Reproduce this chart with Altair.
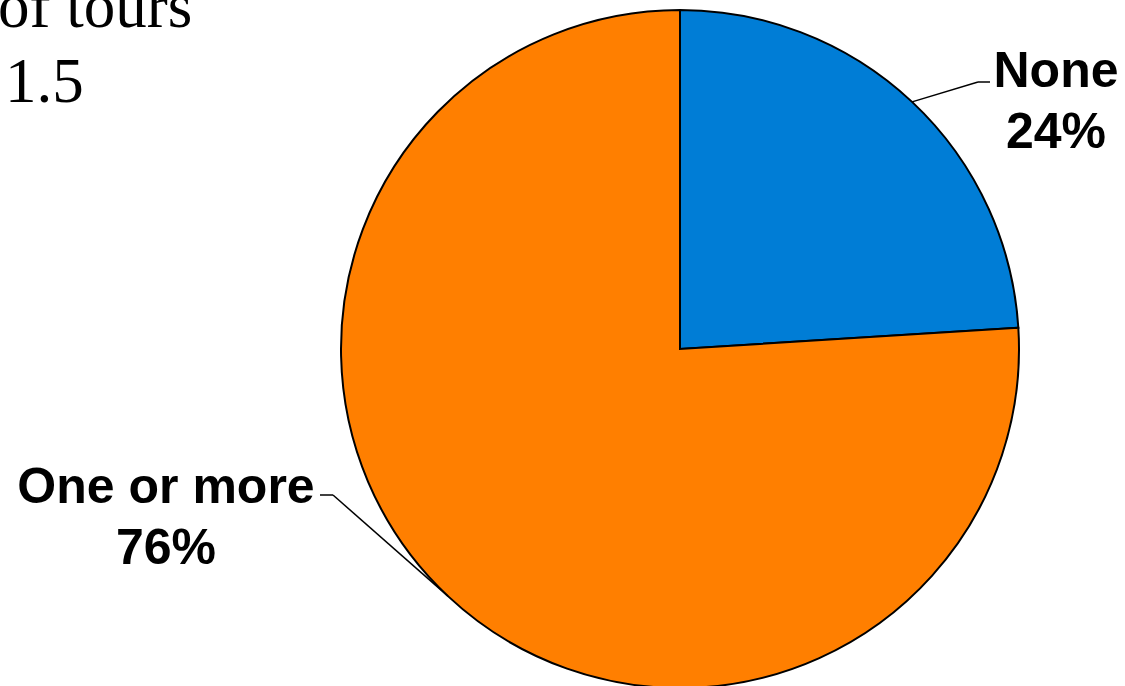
import altair as alt
import pandas as pd

categories = ["None", "One or more"]
values = [24, 76]
colors = ["#007DD6", "#FF7F00"]
side_text = ["of tours", "1.5"]

df = pd.DataFrame({"category": categories, "value": values, "order": [0, 1]})

CX, CY, R = 680, 349, 339

base = alt.Chart(df)

pie = base.mark_arc(stroke="black", strokeWidth=2, radius=R).encode(
    theta=alt.Theta("value:Q", stack=True),
    order=alt.Order("order:Q"),
    color=alt.Color("category:N", scale=alt.Scale(domain=categories, range=colors), legend=None),
    x=alt.value(CX),
    y=alt.value(CY),
)

geo = base.transform_joinaggregate(total="sum(value)").transform_window(
    cum="sum(value)", sort=[alt.SortField("order")]
).transform_calculate(
    mid="2*PI*(datum.cum - datum.value/2)/datum.total",
    ex=f"{CX} + {R}*sin(datum.mid)",
    ey=f"{CY} - {R}*cos(datum.mid)",
    label="[datum.category, datum.value + '%']",
)

def leader(cat, elbow, end):
    g = geo.transform_filter(alt.datum.category == cat)
    r1 = g.mark_rule(color="black", strokeWidth=1.5).encode(
        x=alt.X("ex:Q", scale=None), y=alt.Y("ey:Q", scale=None),
        x2=alt.value(elbow[0]), y2=alt.value(elbow[1]),
    )
    r2 = g.mark_rule(color="black", strokeWidth=1.5).encode(
        x=alt.value(elbow[0]), y=alt.value(elbow[1]),
        x2=alt.value(end[0]), y2=alt.value(end[1]),
    )
    return r1 + r2

def label(cat, x, y):
    g = geo.transform_filter(alt.datum.category == cat)
    return g.mark_text(
        font="Liberation Sans", fontWeight="bold", fontSize=50, lineHeight=61,
        align="center", baseline="alphabetic", color="black",
    ).encode(text="label:N", x=alt.value(x), y=alt.value(y))

side_df = pd.DataFrame({"t": side_text, "i": [0, 1]})

def side(i, x, y):
    return alt.Chart(side_df).transform_filter(alt.datum.i == i).mark_text(
        font="Liberation Serif", fontSize=63, align="left",
        baseline="alphabetic", color="black",
    ).encode(text="t:N", x=alt.value(x), y=alt.value(y))

chart = alt.layer(
    pie,
    leader("None", (978, 82), (990, 82)),
    leader("One or more", (333, 495), (320, 495)),
    label("None", 1056, 87),
    label("One or more", 166, 503),
    side(0, -2, 27),
    side(1, 5, 102),
).properties(
    width=1125, height=686, padding=0,
    autosize=alt.AutoSizeParams(type="none"),
).configure_view(stroke=None)

chart.save("out.html", embed_options={"renderer": "svg", "actions": False})
